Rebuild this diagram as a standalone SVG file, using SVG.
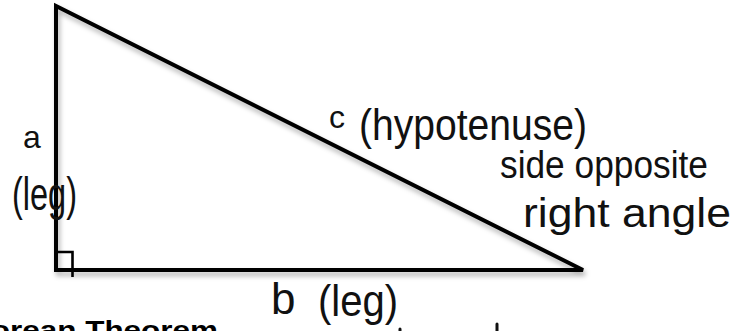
<svg xmlns="http://www.w3.org/2000/svg" width="741" height="331" viewBox="0 0 741 331">
<defs>
<filter id="sh" x="-5%" y="-5%" width="110%" height="115%">
<feDropShadow dx="2" dy="4" stdDeviation="2.5" flood-color="#000" flood-opacity="0.3"/>
</filter>
<style>
.hw{font-family:"Liberation Sans",Arial,sans-serif;fill:#111;}
.ln{fill:none;stroke:#000;stroke-width:4;stroke-linejoin:miter;}
.mk{fill:none;stroke:#000;stroke-width:2.6;}
.pen{fill:none;stroke:#111;stroke-width:3;stroke-linecap:round;}
.title{font-family:"Liberation Sans",Arial,sans-serif;font-weight:bold;fill:#000;}
</style>
</defs>
<rect width="741" height="331" fill="#fff"/>
<g id="triangle">
<polygon class="ln" points="56,6 56,270 583,270" filter="url(#sh)"/>
<polyline class="mk" points="56,252 72.5,252 72.5,277"/>
</g>
<g id="labels">
<text class="hw" x="23" y="148" font-size="32">a</text>
<text class="hw" x="12" y="210" font-size="46" textLength="65" lengthAdjust="spacingAndGlyphs">(leg)</text>
<text class="hw" x="329" y="128" font-size="32">c</text>
<text class="hw" x="359" y="140" font-size="44" textLength="228" lengthAdjust="spacingAndGlyphs">(hypotenuse)</text>
<text class="hw" x="500" y="178" font-size="38" textLength="208" lengthAdjust="spacingAndGlyphs">side opposite</text>
<text class="hw" x="523" y="227" font-size="40" textLength="208" lengthAdjust="spacingAndGlyphs">right angle</text>
<text class="hw" x="271" y="314" font-size="44">b</text>
<text class="hw" x="318" y="316" font-size="44" textLength="80" lengthAdjust="spacingAndGlyphs">(leg)</text>
</g>
<g id="fragments">
<line class="pen" x1="400" y1="329" x2="400" y2="333"/>
<line class="pen" x1="497" y1="324" x2="497" y2="333"/>
</g>
<g id="title">
<text class="title" font-size="26" text-anchor="end" transform="translate(218,338.5) scale(1.21,1)">Pythagorean Theorem</text>
</g>
</svg>
